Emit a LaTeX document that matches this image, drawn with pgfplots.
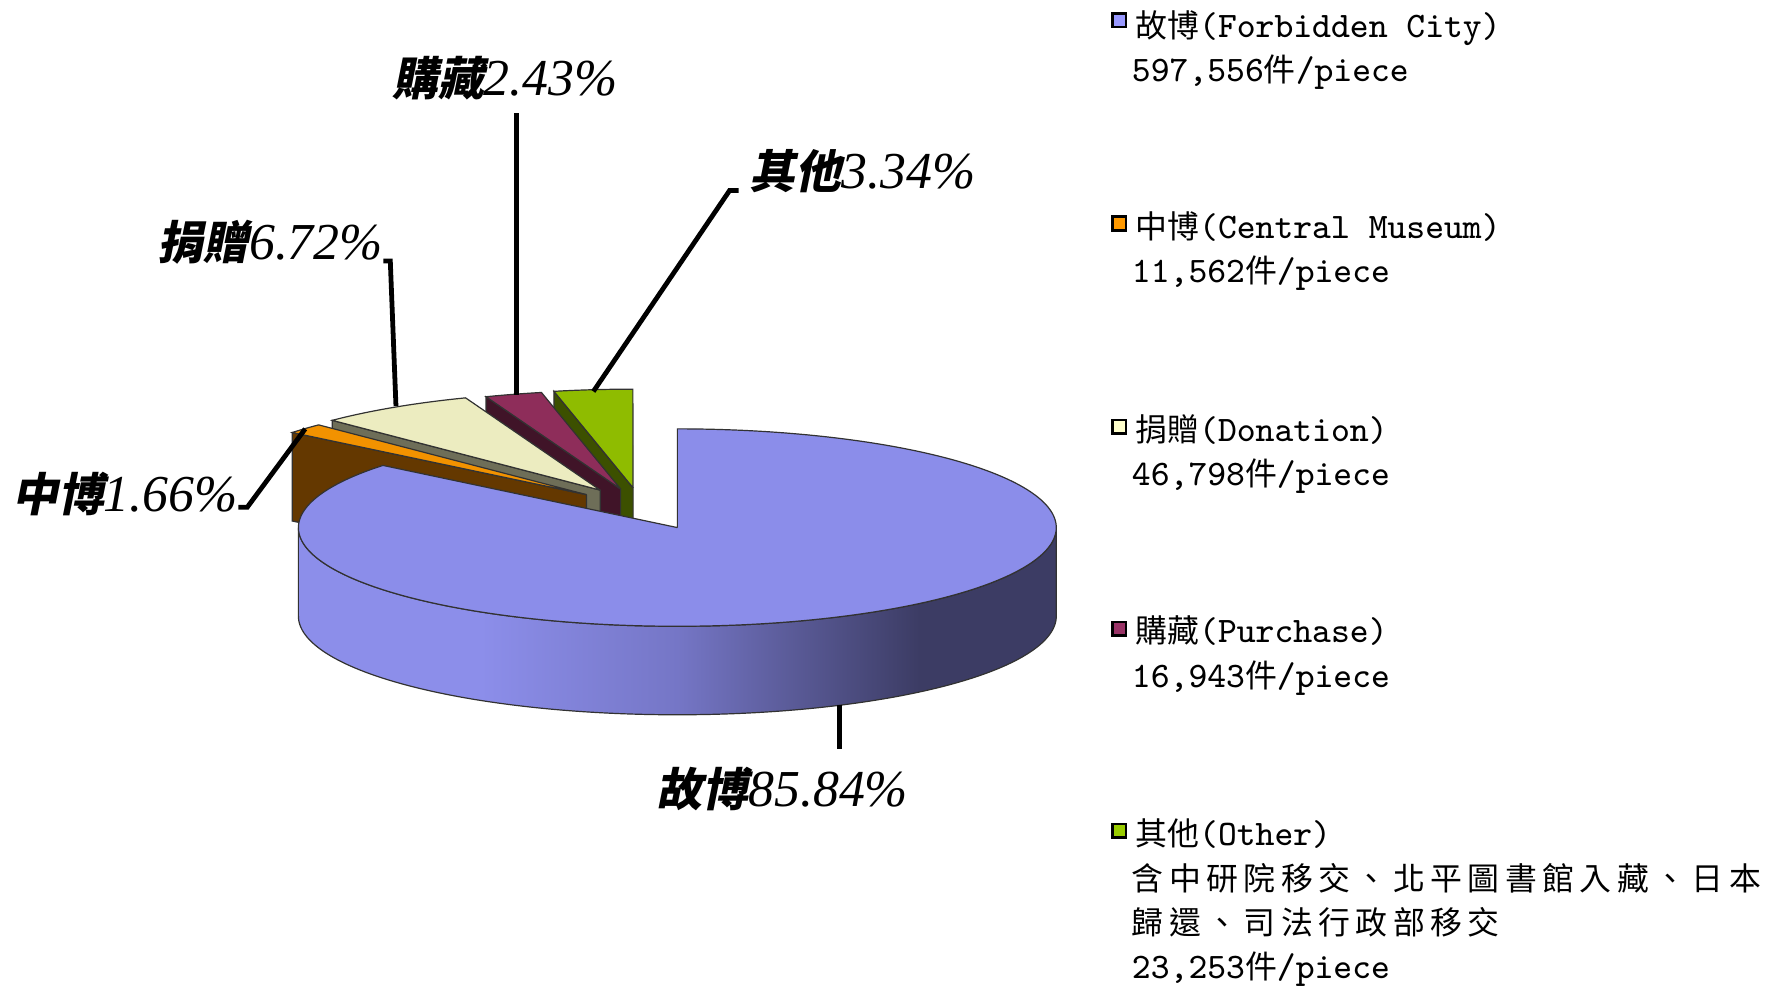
\documentclass[border=0pt]{standalone}
\usepackage{fontspec}
\usepackage{pgfplots}
\pgfplotsset{compat=1.18}
\newfontfamily\cjk{Noto Sans CJK TC}
\newfontfamily\cjkwide{Noto Sans CJK TC}[LetterSpace=17]
\newfontfamily\cjksl{Noto Sans CJK TC}[FakeSlant=0.2]
\newfontfamily\numit{Liberation Serif}

\definecolor{topB}{RGB}{139,141,234}
\definecolor{wallL}{RGB}{140,142,234}
\definecolor{wallM}{RGB}{117,118,198}
\definecolor{wallD}{RGB}{60,60,100}
\definecolor{orT}{RGB}{242,146,0}
\definecolor{orF}{RGB}{100,56,0}
\definecolor{crT}{RGB}{236,236,192}
\definecolor{crF}{RGB}{110,110,88}
\definecolor{maT}{RGB}{142,45,90}
\definecolor{maF}{RGB}{64,20,40}
\definecolor{grT}{RGB}{143,188,0}
\definecolor{grF}{RGB}{60,80,0}
\definecolor{edge}{RGB}{50,50,50}
\definecolor{lgA}{RGB}{153,153,255}
\definecolor{lgB}{RGB}{255,153,0}
\definecolor{lgC}{RGB}{255,255,204}
\definecolor{lgD}{RGB}{153,51,102}
\definecolor{lgE}{RGB}{153,204,0}

\pgfdeclarehorizontalshading{bluewall}{100bp}{color(0bp)=(wallL); color(37bp)=(wallL); color(50bp)=(wallM); color(66bp)=(wallD); color(100bp)=(wallD)}

\newcommand\lc[1]{{\cjk\fontsize{8}{9}\selectfont #1}}
\newcommand\lw[1]{{\cjkwide\fontsize{8}{9}\selectfont #1}}
\newcommand\lt[1]{{\ttfamily\fontsize{9}{10}\selectfont #1}}
\newcommand\lab[2]{{\cjksl\bfseries\fontsize{11.5}{12}\selectfont #1}{\numit\itshape\fontsize{13}{14}\selectfont #2}}

% shares in percent: Forbidden City, Central Museum, Donation, Purchase, Other
\def\pA{85.84}
\def\pB{1.66}
\def\pC{6.72}
\def\pD{2.43}
\def\pE{3.34}

\begin{document}
\begin{tikzpicture}
\pgfmathsetmacro\aA{90-3.6*\pA}
\pgfmathsetmacro\aB{\aA-3.6*\pB}
\pgfmathsetmacro\aC{\aB-3.6*\pC}
\pgfmathsetmacro\aD{\aC-3.6*\pD}
\pgfmathsetmacro\aE{\aD-3.6*\pE}
\pgfmathsetmacro\dA{\aA-6}
\pgfmathsetmacro\dB{\aB-6}
\pgfmathsetmacro\dC{\aC-6}
\pgfmathsetmacro\dD{\aD-6}
\pgfmathsetmacro\dE{\aE-6}
\pgfmathsetmacro\eA{\aA+6}
\pgfmathsetmacro\eB{\aB+6}
\pgfmathsetmacro\eC{\aC+6}
\pgfmathsetmacro\eD{\aD+6}
\begin{axis}[
  width=15.68cm, height=8.72cm, scale only axis,
  xmin=0, xmax=1568, ymin=0, ymax=872, y dir=reverse,
  hide axis, clip=false,
  declare function={
    cl(\t,\a,\b)=min(max(\t,\a),\b);
    on(\t,\a,\b)=1-or(\t<(\a-3),\t>(\b+3));
    fa(\t)=and(\t>0.5,\t<2.5);
    fb(\t)=and(\t>1.5,\t<3.5);
    wp(\t)=(\t<180.5)*(180+\t)+and(\t>180.5,\t<361.5)*(541-\t)+(\t>361.5)*180;
    wd(\t)=and(\t>180.5,\t<361.5)*78;
  },
]
% ---- Other (green)
\addplot[fill=grF, draw=edge, line width=0.3pt, samples at={0,1,2,3,4}]
  ({558+fa(x)*334*cos(\aD)},{430-fa(x)*87*sin(\aD)+fb(x)*78});
\addplot[fill=grT, draw=edge, line width=0.3pt, domain=\dE:\eD, samples=40]
  ({558+on(x,\aE,\aD)*334*cos(cl(x,\aE,\aD))},{430-on(x,\aE,\aD)*87*sin(cl(x,\aE,\aD))});
% ---- Purchase (maroon)
\addplot[fill=maF, draw=edge, line width=0.3pt, samples at={0,1,2,3,4}]
  ({547+fa(x)*334*cos(\aC)},{431-fa(x)*87*sin(\aC)+fb(x)*78});
\addplot[fill=maT, draw=edge, line width=0.3pt, domain=\dD:\eC, samples=40]
  ({547+on(x,\aD,\aC)*334*cos(cl(x,\aD,\aC))},{431-on(x,\aD,\aC)*87*sin(cl(x,\aD,\aC))});
% ---- Donation (cream)
\addplot[fill=crF, draw=edge, line width=0.3pt, samples at={0,1,2,3,4}]
  ({529+fa(x)*334*cos(\aB)},{432-fa(x)*87*sin(\aB)+fb(x)*78});
\addplot[fill=crT, draw=edge, line width=0.3pt, domain=\dC:\eB, samples=60]
  ({529+on(x,\aC,\aB)*334*cos(cl(x,\aC,\aB))},{432-on(x,\aC,\aB)*87*sin(cl(x,\aC,\aB))});
% ---- Central Museum (orange)
\addplot[fill=orF, draw=edge, line width=0.3pt, samples at={0,1,2,3,4}]
  ({517+fa(x)*334*cos(\aA)},{436-fa(x)*87*sin(\aA)+fb(x)*78});
\addplot[fill=orT, draw=edge, line width=0.3pt, domain=\dB:\eA, samples=40]
  ({517+on(x,\aB,\aA)*334*cos(cl(x,\aB,\aA))},{436-on(x,\aB,\aA)*87*sin(cl(x,\aB,\aA))});
% ---- Forbidden City (blue)
\addplot[shade, shading=bluewall, draw=edge, line width=0.3pt, domain=0:362, samples=363]
  ({597+334*cos(wp(x))},{465-87*sin(wp(x))+wd(x)});
\addplot[fill=topB, draw=edge, line width=0.3pt, domain=\dA:96, samples=260]
  ({597+on(x,\aA,90)*334*cos(cl(x,\aA,90))},{465-on(x,\aA,90)*87*sin(cl(x,\aA,90))});

% ---- leader lines
\addplot[black, line width=1.2pt] coordinates {(455,100) (455,348)};
\addplot[black, line width=1.2pt] coordinates {(523,345) (643,168) (651,168)};
\addplot[black, line width=1.2pt] coordinates {(349,358) (344,230) (338,230)};
\addplot[black, line width=1.2pt] coordinates {(269,378) (218,447) (210,447)};
\addplot[black, line width=1.2pt] coordinates {(740,621) (740,660)};

% ---- data labels
\node[anchor=base west, inner sep=0] at (345,84) {\lab{購藏}{2.43\%}};
\node[anchor=base west, inner sep=0] at (660,166) {\lab{其他}{3.34\%}};
\node[anchor=base west, inner sep=0] at (138,229) {\lab{捐贈}{6.72\%}};
\node[anchor=base west, inner sep=0] at (10,451) {\lab{中博}{1.66\%}};
\node[anchor=base west, inner sep=0] at (578,711) {\lab{故博}{85.84\%}};

% ---- legend
\addplot[only marks, mark=square*, mark size=0.6mm, mark options={fill=lgA, draw=black, line width=0.6pt}] coordinates {(986.5,18)};
\addplot[only marks, mark=square*, mark size=0.6mm, mark options={fill=lgB, draw=black, line width=0.6pt}] coordinates {(986.5,197)};
\addplot[only marks, mark=square*, mark size=0.6mm, mark options={fill=lgC, draw=black, line width=0.6pt}] coordinates {(986.5,376)};
\addplot[only marks, mark=square*, mark size=0.6mm, mark options={fill=lgD, draw=black, line width=0.6pt}] coordinates {(986.5,554)};
\addplot[only marks, mark=square*, mark size=0.6mm, mark options={fill=lgE, draw=black, line width=0.6pt}] coordinates {(986.5,732)};

\node[anchor=base west, inner sep=0] at (1000,33) {\lc{故博}\lt{(Forbidden City)}};
\node[anchor=base west, inner sep=0] at (997,72) {\lt{597,556}\lc{件}\lt{/piece}};
\node[anchor=base west, inner sep=0] at (1000,210) {\lc{中博}\lt{(Central Museum)}};
\node[anchor=base west, inner sep=0] at (997,249) {\lt{11,562}\lc{件}\lt{/piece}};
\node[anchor=base west, inner sep=0] at (1000,389) {\lc{捐贈}\lt{(Donation)}};
\node[anchor=base west, inner sep=0] at (997,428) {\lt{46,798}\lc{件}\lt{/piece}};
\node[anchor=base west, inner sep=0] at (1000,566) {\lc{購藏}\lt{(Purchase)}};
\node[anchor=base west, inner sep=0] at (997,606) {\lt{16,943}\lc{件}\lt{/piece}};
\node[anchor=base west, inner sep=0] at (1000,745) {\lc{其他}\lt{(Other)}};
\node[anchor=base west, inner sep=0] at (997,785) {\lw{含中研院移交、北平圖書館入藏、日本}};
\node[anchor=base west, inner sep=0] at (997,824) {\lw{歸還、司法行政部移交}};
\node[anchor=base west, inner sep=0] at (997,862) {\lt{23,253}\lc{件}\lt{/piece}};
\end{axis}
\pgfresetboundingbox
\path[use as bounding box] (current axis.south west) rectangle (current axis.north east);
\end{tikzpicture}
\end{document}
